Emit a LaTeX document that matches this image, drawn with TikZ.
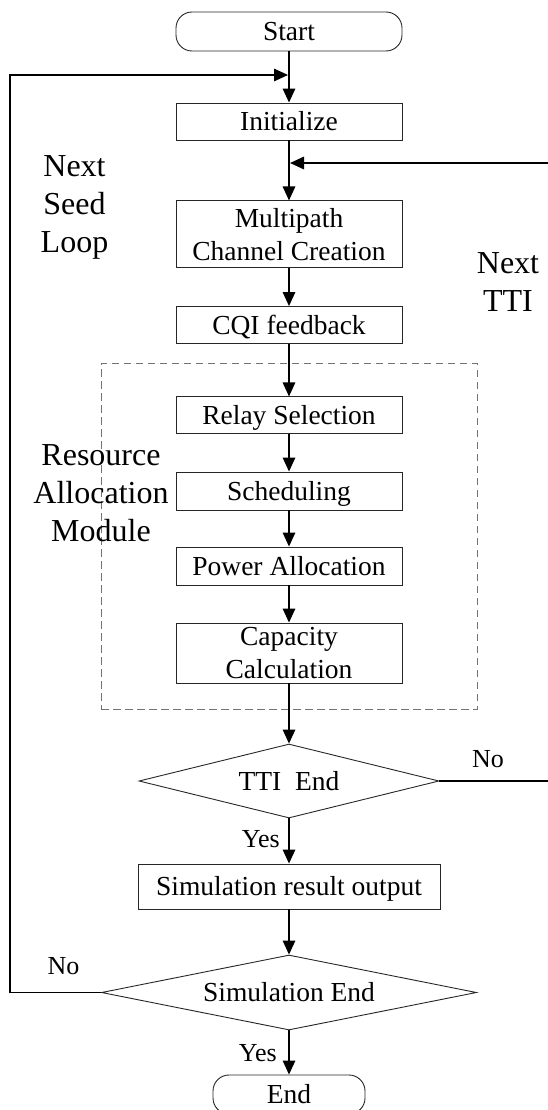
\documentclass[tikz,border=0pt]{standalone}
\usepackage{fontspec}
\setmainfont{Liberation Serif}
\usetikzlibrary{arrows.meta,shapes.geometric}

\begin{document}
\begin{tikzpicture}[x=1pt,y=-1pt,
  box/.style={draw=black!85, line width=0.9pt, minimum width=226pt,
    inner sep=0pt, font=\fontsize{27.5}{32.5}\selectfont, align=center},
  oneline/.style={text height=18.7pt, text depth=0pt},
  term/.style={box, rounded corners=16pt, minimum height=39pt, oneline},
  decide/.style={diamond, draw=black!85, line width=0.9pt, inner sep=0pt,
    aspect=4, font=\fontsize{27.5}{32.5}\selectfont, oneline},
  flow/.style={line width=1.5pt, -{Triangle[length=14pt,width=12.5pt]}},
  link/.style={line width=1.5pt},
  tag/.style={font=\fontsize{26}{30}\selectfont, inner sep=0pt},
  side/.style={font=\fontsize{32}{38}\selectfont, inner sep=0pt, anchor=base},
  group/.style={draw=black!55, dash pattern=on 7.5pt off 4.5pt, line width=1pt}
]
\useasboundingbox (0,0) rectangle (547,1110);

% resource allocation module frame
\node[group, minimum width=376pt, minimum height=346pt, inner sep=0pt] (ram) at (289,536) {};

% process steps
\node[term] (start) at (289,31.5) {Start};
\node[box, oneline, minimum height=37pt] (init) at (289,121.5) {Initialize};
\node[box, minimum height=67pt] (chan) at (289,234.4) {Multipath\\Channel Creation};
\node[box, oneline, minimum height=37pt] (cqi) at (289,325) {CQI feedback};
\node[box, oneline, minimum height=37pt] (relay) at (289,415.4) {Relay Selection};
\node[box, oneline, minimum height=38pt] (sched) at (289,491) {Scheduling};
\node[box, oneline, minimum height=38pt] (power) at (289,566) {Power Allocation};
\node[box, minimum height=60pt] (cap) at (289,653) {Capacity\\Calculation};
\node[decide, minimum width=300pt, minimum height=74pt] (tti) at (289,781) {TTI~~End};
\node[box, oneline, minimum width=302pt, minimum height=45pt] (out) at (289,886.5) {Simulation result output};
\node[decide, minimum width=375pt, minimum height=75pt] (simend) at (289,992.5) {Simulation End};
\node[term, minimum width=152pt] (finish) at (289,1094.5) {End};

% side labels
\node[side] (seedlbl) at (74.5,177) {\begin{tabular}[t]{@{}c@{}}Next\\Seed\\Loop\end{tabular}};
\node[side] (ttilbl) at (508,273) {\begin{tabular}[t]{@{}c@{}}Next\\TTI\end{tabular}};
\node[side] (ramlbl) at (101,465) {\begin{tabular}[t]{@{}c@{}}Resource\\Allocation\\Module\end{tabular}};

% main flow
\draw[flow] (start) -- (init);
\draw[flow] (init) -- (chan);
\draw[flow] (chan) -- (cqi);
\draw[flow] (cqi) -- (relay);
\draw[flow] (relay) -- (sched);
\draw[flow] (sched) -- (power);
\draw[flow] (power) -- (cap);
\draw[flow] (cap) -- (tti);
\draw[flow] (tti) -- (out);
\draw[flow] (out) -- (simend);
\draw[flow] (simend) -- (finish);

% next seed loop
\coordinate (seedTurn) at (10,75);
\coordinate (seedIn) at (288,75);
\draw[flow] (simend.west) -| (seedTurn) -- (seedIn);

% next TTI loop
\coordinate (ttiOut) at (548,781);
\coordinate (ttiBack) at (548,163);
\coordinate (ttiIn) at (290,163);
\draw[link] (tti.east) -- (ttiOut);
\draw[flow] (ttiBack) -- (ttiIn);

% decision labels
\node[tag, anchor=base east] (yes1) at (280,847) {Yes};
\node[tag, anchor=base west] (no1) at (472,767) {No};
\node[tag, anchor=base east] (yes2) at (277,1061) {Yes};
\node[tag, anchor=base west] (no2) at (47.5,974) {No};
\end{tikzpicture}
\end{document}
